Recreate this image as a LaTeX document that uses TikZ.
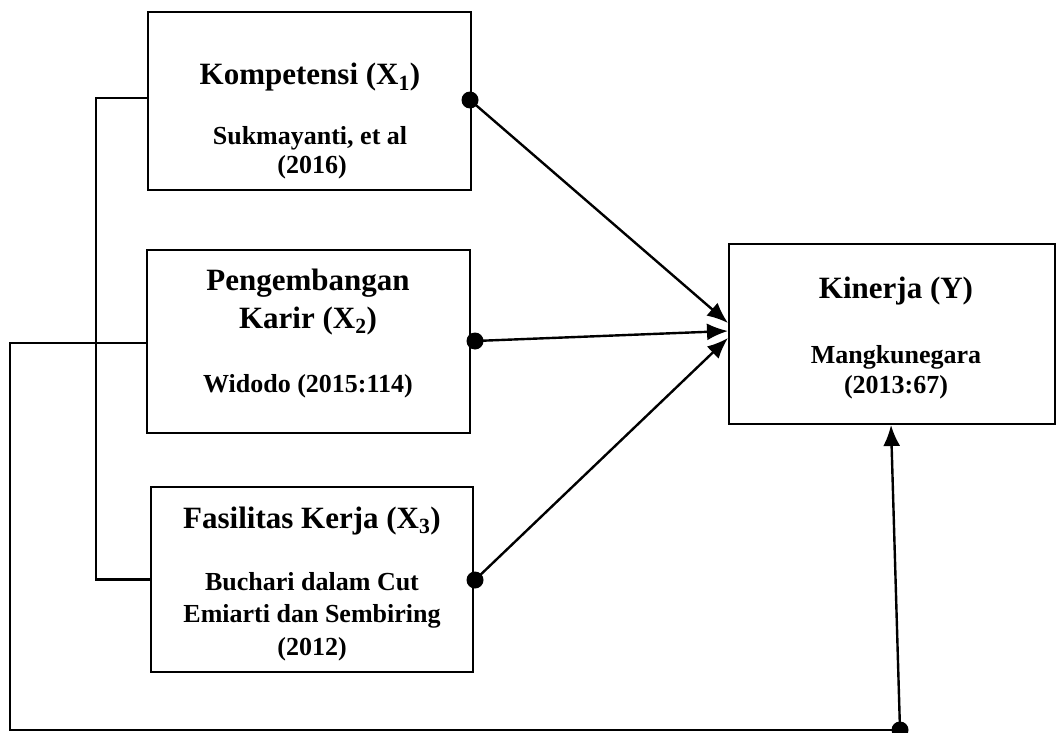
\documentclass[tikz,border=0pt]{standalone}
\usepackage{amsmath,amssymb,graphicx,tikz,xcolor}
\usepackage{fontspec}
\setmainfont{Liberation Serif}
\usetikzlibrary{arrows.meta}

\tikzset{
    box/.style={draw,line width=2.6pt,inner sep=0pt},
    head/.style={font=\fontsize{31}{36}\selectfont\bfseries,anchor=base,inner sep=0pt},
    refs/.style={font=\fontsize{26}{30}\selectfont\bfseries,anchor=base,inner sep=0pt},
    dot/.style={circle,fill,inner sep=0pt,minimum size=17pt},
    wire/.style={line width=2.4pt},
    link/.style={line width=2.4pt,-{Latex[length=21pt,width=17pt]}}
}

\begin{document}
\begin{tikzpicture}[x=1pt,y=-1pt]
                \useasboundingbox (0,0) rectangle (1057,733);
                % boxes
                \node[box,minimum width=323pt,minimum height=178pt] (kom) at (309.5,101) {};
                \node[box,minimum width=323pt,minimum height=183pt] (peng) at (308.5,341.5) {};
                \node[box,minimum width=322pt,minimum height=185pt] (fas) at (312,579.5) {};
                \node[box,minimum width=326pt,minimum height=180pt] (kin) at (892,334) {};
                % texts
                \node[head] (kom1) at (310,85) {Kompetensi (X\textsubscript{1})};
                \node[refs] (kom2) at (310,144) {Sukmayanti, et al};
                \node[refs] (kom3) at (312,173) {(2016)};
                \node[head] (peng1) at (308,290) {Pengembangan};
                \node[head] (peng2) at (308,328) {Karir (X\textsubscript{2})};
                \node[refs] (peng3) at (308,392) {Widodo (2015:114)};
                \node[head] (fas1) at (312,528) {Fasilitas Kerja (X\textsubscript{3})};
                \node[refs] (fas2) at (312,590) {Buchari dalam Cut};
                \node[refs] (fas3) at (312,622) {Emiarti dan Sembiring};
                \node[refs] (fas4) at (312,655) {(2012)};
                \node[head] (kin1) at (896,298) {Kinerja (Y)};
                \node[refs] (kin2) at (896,363) {Mangkunegara};
                \node[refs] (kin3) at (896,393) {(2013:67)};
                % dots
                \node[dot] (d1) at (470,100) {};
                \node[dot] (d2) at (475,341) {};
                \node[dot] (d3) at (475,580) {};
                \node[dot] (d4) at (900,730) {};
                \coordinate (t1) at (728,323);
                \coordinate (t2) at (728,331);
                \coordinate (t3) at (728,338);
                \coordinate (t4) at (891,425);
                \coordinate (c1) at (10,730);
                % connectors
                \draw[link] (d1.center) -- (t1);
                \draw[link] (d2.center) -- (t2);
                \draw[link] (d3.center) -- (t3);
                \draw[link] (d4.center) -- (t4);
                \draw[wire] ([yshift=3pt]kom.west) -- ++(-51,0) |- (fas.west);
                \draw[wire] ([yshift=-1.5pt]peng.west) -| (c1) -- (d4.center);
            \end{tikzpicture}
\end{document}
